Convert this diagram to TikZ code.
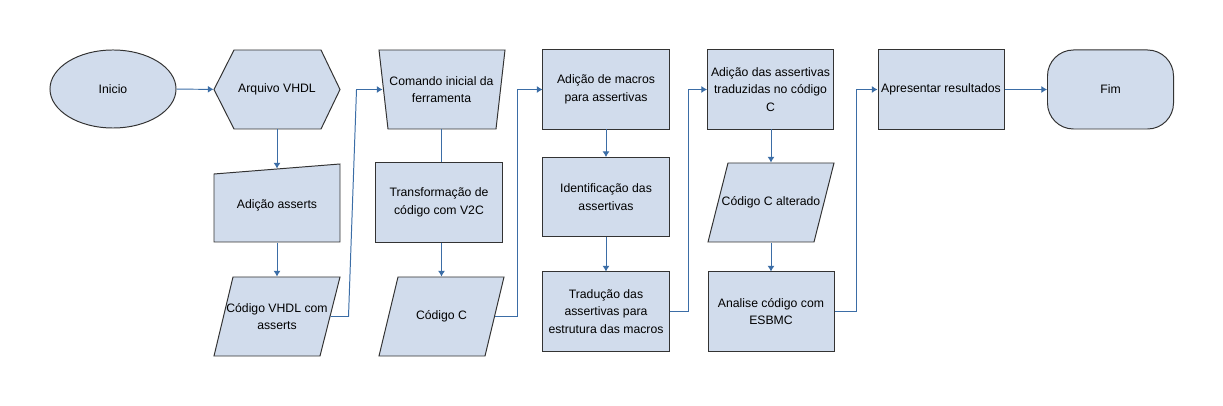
\documentclass[tikz,border=0pt]{standalone}
\usepackage{fontspec}
\setmainfont{Liberation Sans}
\usetikzlibrary{shapes.geometric,arrows.meta}
\definecolor{caixa}{HTML}{D1DCEC}
\definecolor{linha}{HTML}{3B6DA6}
\definecolor{borda}{HTML}{333333}

\begin{document}
\begin{tikzpicture}[x=0.025cm,y=-0.025cm,line width=0.7pt,
    font=\fontsize{8.7}{12.4}\selectfont,
    txt/.style={minimum width=3.15cm,minimum height=1.975cm,align=center,inner sep=1pt},
    box/.style={txt,draw=borda,fill=caixa},
    forma/.style={draw=borda,fill=caixa},
    seta/.style={draw=linha,-{Latex[length=4pt,width=5pt]}},
    liga/.style={draw=linha}]
  \useasboundingbox (0,0) rectangle (1223,406);

  % primeira coluna
  \node[ellipse,draw=borda,fill=caixa,minimum width=3.15cm,minimum height=1.95cm,inner sep=0pt] (inicio) at (113,89) {Inicio};
  \filldraw[forma] (214,89.5) -- (234,50) -- (321,50) -- (340,89.5) -- (321,129) -- (234,129) -- cycle;
  \node[txt] (arquivo) at (277,89.5) {Arquivo VHDL};
  \filldraw[forma] (214,174) -- (340,164) -- (340,242) -- (214,242) -- cycle;
  \node[txt,minimum height=1.825cm] (asserts) at (277,205.5) {Adição asserts};
  \filldraw[forma] (214,356) -- (233,277) -- (340,277) -- (320,356) -- cycle;
  \node[txt,minimum width=2.65cm] (cvhdl) at (277,316.5) {Código VHDL com\\asserts};

  % segunda coluna
  \filldraw[forma] (379,50) -- (505,50) -- (496,129) -- (388,129) -- cycle;
  \node[txt,minimum width=2.925cm] (comando) at (441.5,89.5) {Comando inicial da\\ferramenta};
  \node[box] (transf) at (439,202.5) {Transformação de\\código com V2C};
  \filldraw[forma] (379,356) -- (398,277) -- (504,277) -- (485,356) -- cycle;
  \node[txt,minimum width=2.65cm] (codc) at (441.5,316.5) {Código C};

  % terceira coluna
  \node[box] (macros) at (606,89.5) {Adição de macros\\para assertivas};
  \node[box] (ident) at (606,197) {Identificação das\\assertivas};
  \node[box] (trad) at (606,311.5) {Tradução das\\assertivas para\\estrutura das macros};

  % quarta coluna
  \node[box] (adicao) at (770.5,89.5) {Adição das assertivas\\traduzidas no código\\C};
  \filldraw[forma] (708,242) -- (728,163) -- (834,163) -- (814,242) -- cycle;
  \node[txt,minimum width=2.65cm] (calt) at (771,202.5) {Código C alterado};
  \node[box] (esbmc) at (771,311.5) {Analise código com\\ESBMC};

  % fim
  \node[box] (apres) at (941,89.5) {Apresentar resultados};
  \node[box,rounded corners=0.65cm] (fim) at (1110.5,89.5) {Fim};

  % ligacoes
  \draw[seta] (inicio) -- (arquivo);
  \draw[seta] (arquivo) -- (asserts);
  \draw[seta] (asserts.south) -- (cvhdl.north);
  \draw[seta] (cvhdl.east) -- ++(18,0) -- ++(8,-227) -- (comando.west);
  \draw[liga] (comando.south) -- (comando.south |- transf.north);
  \draw[seta] (transf.south -| codc.north) -- (codc.north);
  \draw[seta] (codc.east) -- ++(22,0) |- (macros);
  \draw[seta] (macros) -- (ident);
  \draw[seta] (ident) -- (trad);
  \draw[seta] (trad.east) -- ++(19,0) |- (adicao);
  \draw[seta] (adicao.south -| calt.north) -- (calt.north);
  \draw[seta] (calt) -- (esbmc);
  \draw[seta] (esbmc.east) -- ++(22,0) |- (apres);
  \draw[seta] (apres) -- (fim);
\end{tikzpicture}
\end{document}
